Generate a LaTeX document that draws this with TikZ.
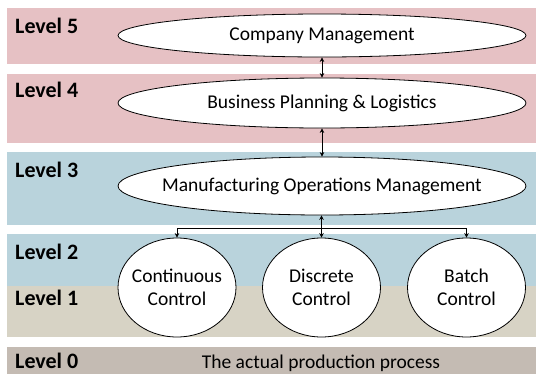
\documentclass[tikz,border=0pt]{standalone}
\usepackage{fontspec}
\setmainfont{Carlito}
\usetikzlibrary{shapes.geometric,arrows.meta}
\definecolor{bandpink}{RGB}{230,193,196}
\definecolor{bandblue}{RGB}{185,211,220}
\definecolor{bandbeige}{RGB}{215,211,197}
\definecolor{bandgrey}{RGB}{196,187,179}
\newcommand{\zb}[1]{\makebox[0pt]{#1}}
\tikzset{
  lvl/.style={anchor=base west, inner sep=0pt, font=\fontsize{22}{25}\selectfont\bfseries},
  oval/.style={draw=black, line width=0.8pt, fill=white, ellipse, inner sep=0pt,
               minimum width=408pt, font=\fontsize{19.5}{22}\selectfont},
  ctrl/.style={draw=black, line width=0.8pt, fill=white, ellipse, inner sep=0pt,
               minimum width=118pt, minimum height=99pt, align=center,
               font=\fontsize{19.5}{22.7}\selectfont},
  conn/.style={line width=1pt, draw=black},
  >={Stealth[length=4.5pt,width=4.5pt]}
}
\begin{document}
\begin{tikzpicture}[x=1pt,y=-1pt]
\useasboundingbox (0,0) rectangle (536,373);
\begin{scope}
\clip (0,0) rectangle (536,373);
% bands
\fill[bandpink] (7,8) rectangle (536,64);
\fill[bandpink] (7,74) rectangle (536,143);
\fill[bandblue] (7,152) rectangle (536,225);
\fill[bandblue] (7,234) rectangle (536,286);
\fill[bandbeige] (7,286) rectangle (536,337);
\fill[bandgrey] (7,347) rectangle (536,380);
% level labels
\node[lvl] (l5) at (15,33.7) {Level 5};
\node[lvl] (l4) at (15,97.5) {Level 4};
\node[lvl] (l3) at (15,177) {Level 3};
\node[lvl] (l2) at (15,259) {Level 2};
\node[lvl] (l1) at (15,305.5) {Level 1};
\node[lvl] (l0) at (15,368) {Level 0};
\node[anchor=base, inner sep=0pt, font=\fontsize{19.5}{22}\selectfont] (proc) at (321,368) {The actual production process};
% ovals
\node[oval, minimum height=43pt] (cm) at (322,35.5) {\zb{Company Management}};
\node[oval, minimum height=50pt] (bp) at (322,103) {\zb{Business Planning \& Logistics}};
\node[oval, minimum height=58pt] (mom) at (322,186) {\zb{Manufacturing Operations Management}};
\node[ctrl] (cc) at (177,287.5) {\zb{Continuous}\\\zb{Control}};
\node[ctrl] (dc) at (321.5,287.5) {\zb{Discrete}\\\zb{Control}};
\node[ctrl] (bc) at (466.5,287.5) {\zb{Batch}\\\zb{Control}};
% connectors
\draw[conn, <->] (cm.south) -- (bp.north);
\draw[conn, <->] (bp.south) -- (mom.north);
\coordinate (junc) at (321.5,228);
\draw[conn, <->] (mom.south -| dc.north) -- (dc.north);
\draw[conn, ->] (junc) -| (cc.north);
\draw[conn, ->] (junc) -| (bc.north);
\end{scope}
\end{tikzpicture}
\end{document}
